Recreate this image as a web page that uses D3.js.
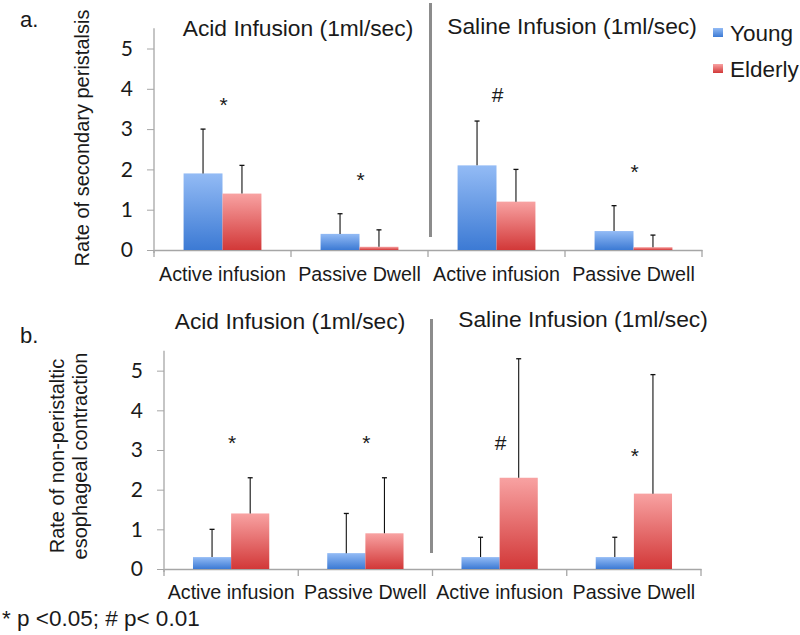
<!DOCTYPE html>
<html><head><meta charset="utf-8">
<script src="https://cdn.jsdelivr.net/npm/d3@7"></script>
<style>body{margin:0;background:#fff}svg{display:block}text{font-family:"Liberation Sans",Arial,sans-serif;fill:#1a1a1a}</style>
</head><body><svg id="c" width="800" height="635"></svg>
<script>
const categories = ["Active infusion","Passive Dwell","Active infusion","Passive Dwell"];
const groupTitles = ["Acid Infusion (1ml/sec)","Saline Infusion (1ml/sec)"];
const series = ["Young","Elderly"];
const yTicks = [0,1,2,3,4,5];
// panel a: rate of secondary peristalsis
const aYoung = [1.9,0.4,2.1,0.47];
const aYoungSD = [1.1,0.5,1.1,0.63];
const aElderly = [1.4,0.08,1.2,0.07];
const aElderlySD = [0.7,0.42,0.8,0.3];
const aMarks = ["*","*","#","*"];
const aMarkLevel = [3.72,1.86,3.85,2.06];
// panel b: rate of non-peristaltic esophageal contraction
const bYoung = [0.3,0.4,0.3,0.3];
const bYoungSD = [0.7,1.0,0.5,0.5];
const bElderly = [1.4,0.9,2.3,1.9];
const bElderlySD = [0.9,1.4,3.0,3.0];
const bMarks = ["*","*","#","*"];
const bMarkLevel = [3.30,3.30,3.18,2.97];

const svg = d3.select("#c");
const defs = svg.append("defs");
function grad(id, top, bot){
  const g = defs.append("linearGradient").attr("id",id).attr("x1",0).attr("y1",0).attr("x2",0).attr("y2",1);
  g.append("stop").attr("offset","0%").attr("stop-color",top);
  g.append("stop").attr("offset","100%").attr("stop-color",bot);
}
grad("gBlue","#93bbf5","#3c7ad4");
grad("gRed","#f8a2a2","#d23838");
const fills = {Young:"url(#gBlue)", Elderly:"url(#gRed)"};

function panel(o){
  const y = d3.scaleLinear().domain([0,5.5]).range([o.y0, o.y0 - 5.5*o.unit]);
  const x = d3.scaleBand().domain(d3.range(categories.length)).range([o.x0,o.x1]).padding(0);
  const xs = d3.scaleBand().domain(series).range([0,x.bandwidth()]).paddingInner(0).paddingOuter(0.76);
  const g = svg.append("g");
  // y axis
  const ya = g.append("g").attr("transform",`translate(${o.x0},0)`).call(d3.axisLeft(y).tickValues(yTicks).tickSize(7).tickPadding(14).tickFormat(d3.format("d")));
  ya.select(".domain").attr("stroke","#a6a6a6").attr("stroke-width",1.3).attr("d",`M0,${y(5.5)}V${o.y0+3}`);
  ya.selectAll(".tick line").attr("stroke","#a6a6a6");
  ya.selectAll(".tick text").style("font-family","Lato, 'Open Sans', sans-serif").style("font-size","21px").attr("fill","#222");
  // x axis
  const xa = g.append("g").attr("transform",`translate(0,${o.y0})`).call(d3.axisBottom(x).tickSize(0).tickFormat(i=>categories[i]));
  xa.select(".domain").attr("stroke","#a6a6a6").attr("stroke-width",1.3);
  xa.selectAll(".tick text").attr("y",o.xlabOff).attr("dy",0).style("font-size","19.7px").attr("fill","#1a1a1a");
  const bounds = d3.range(categories.length+1).map(i => i<categories.length ? x(i) : o.x1);
  g.selectAll("line.xt").data(bounds).join("line").attr("class","xt")
    .attr("x1",d=>d).attr("x2",d=>d).attr("y1",o.y0).attr("y2",o.y0+7).attr("stroke","#a6a6a6").attr("stroke-width",1.3);
  // bars
  const rows = [];
  categories.forEach((c,i)=>{
    rows.push({i, s:"Young", v:o.young[i], sd:o.youngSD[i]});
    rows.push({i, s:"Elderly", v:o.elderly[i], sd:o.elderlySD[i]});
  });
  g.selectAll("rect.bar").data(rows).join("rect").attr("class","bar")
    .attr("x",d=>x(d.i)+xs(d.s)).attr("width",xs.bandwidth())
    .attr("y",d=>y(d.v)).attr("height",d=>o.y0-y(d.v)).attr("fill",d=>fills[d.s]);
  // error bars
  const eb = g.selectAll("g.eb").data(rows).join("g").attr("class","eb");
  eb.append("line").attr("x1",d=>x(d.i)+xs(d.s)+xs.bandwidth()/2).attr("x2",d=>x(d.i)+xs(d.s)+xs.bandwidth()/2)
    .attr("y1",d=>y(d.v)).attr("y2",d=>y(d.v+d.sd)).attr("stroke","#111").attr("stroke-width",1.1);
  eb.append("line").attr("x1",d=>x(d.i)+xs(d.s)+xs.bandwidth()/2-2.5).attr("x2",d=>x(d.i)+xs(d.s)+xs.bandwidth()/2+2.5)
    .attr("y1",d=>y(d.v+d.sd)).attr("y2",d=>y(d.v+d.sd)).attr("stroke","#111").attr("stroke-width",1.3);
  // significance marks
  g.selectAll("text.mk").data(o.marks).join("text").attr("class","mk")
    .attr("x",(d,i)=>x(i)+x.bandwidth()/2+1).attr("y",(d,i)=>y(o.markLevel[i]))
    .attr("text-anchor","middle").attr("dominant-baseline","central")
    .attr("dy",d=>d==="*"?"0.22em":"0")
    .style("font-size","21px").text(d=>d);
  // separator
  g.append("line").attr("x1",o.sepX).attr("x2",o.sepX).attr("y1",o.sepTop).attr("y2",o.sepBot)
    .attr("stroke","#8c8c8c").attr("stroke-width",3);
  // group titles
  g.selectAll("text.gt").data(groupTitles).join("text").attr("class","gt")
    .attr("x",(d,i)=>o.titleX[i]).attr("y",(d,i)=>o.titleY[i]).attr("text-anchor","middle")
    .style("font-size","22.8px").text(d=>d);
  // panel letter
  g.append("text").attr("x",o.letterX).attr("y",o.letterY).style("font-size","22px").text(o.letter);
  // y label
  const yl = g.append("text").attr("transform",`translate(${o.ylX},${o.ylY}) rotate(-90)`).attr("text-anchor","middle").style("font-size","20px");
  o.ylabel.forEach((t,k)=>yl.append("tspan").attr("x",0).attr("dy",k===0?0:23).text(t));
}

panel({x0:154,x1:702,y0:250,unit:40.3,young:aYoung,youngSD:aYoungSD,elderly:aElderly,elderlySD:aElderlySD,
  marks:aMarks,markLevel:aMarkLevel,sepX:430.5,sepTop:3,sepBot:237,titleX:[298,572],titleY:[36,34],xlabOff:31,
  letter:"a.",letterX:20,letterY:27,ylabel:["Rate of secondary peristalsis"],ylX:89,ylY:138});
panel({x0:164,x1:701,y0:569,unit:39.67,young:bYoung,youngSD:bYoungSD,elderly:bElderly,elderlySD:bElderlySD,
  marks:bMarks,markLevel:bMarkLevel,sepX:431.5,sepTop:319,sepBot:553,titleX:[290,583],titleY:[329,327],xlabOff:30,
  letter:"b.",letterX:20,letterY:343,ylabel:["Rate of non-peristaltic","esophageal contraction"],ylX:64,ylY:456});

// legend
const lg = svg.append("g").selectAll("g").data(series).join("g").attr("transform",(d,i)=>`translate(713,${28+i*36})`);
lg.append("rect").attr("width",10).attr("height",9).attr("fill",d=>fills[d]);
lg.append("text").attr("x",17).attr("y",5).attr("dominant-baseline","central").style("font-size","22.5px").text(d=>d);

// footnote
svg.append("text").attr("x",2).attr("y",626).style("font-size","22.5px").text("* p <0.05; # p< 0.01");
</script></body></html>
